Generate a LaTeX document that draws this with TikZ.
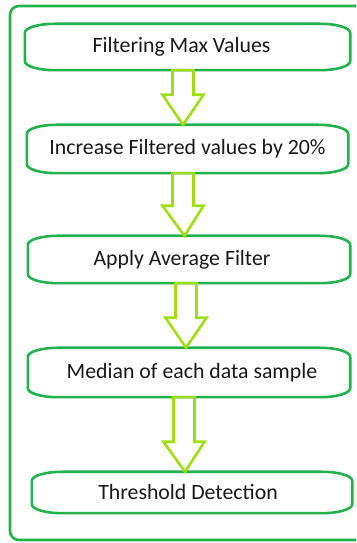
\documentclass[tikz,border=0pt]{standalone}
\usepackage{fontspec}
\setmainfont{Carlito}
\usetikzlibrary{calc}
\definecolor{boxgreen}{RGB}{34,177,76}
\definecolor{arrowgreen}{RGB}{160,222,20}
\tikzset{
  stepbox/.style={draw=none, inner sep=0pt, font=\fontsize{21.8}{25}\selectfont, text=black!90},
  boxline/.style={draw=boxgreen, line width=2.6pt},
  blockarrow/.style={draw=arrowgreen, line width=2.6pt, line join=miter,
    to path={let \p1=(\tikztostart), \p2=(\tikztotarget) in
      (\x1-10.5pt,\y1) -- (\x1+10.5pt,\y1) -- (\x1+10.5pt,\y2+30pt) -- (\x1+20.5pt,\y2+30pt)
      -- (\x2,\y2) -- (\x1-20.5pt,\y2+30pt) -- (\x1-10.5pt,\y2+30pt) -- cycle}},
  outerline/.style={draw=boxgreen, line width=2.6pt, rounded corners=9pt}
}
\begin{document}
\begin{tikzpicture}[x=1pt,y=1pt]
\useasboundingbox (0,0) rectangle (356,543);
\clip (0,0) rectangle (356,543);
\fill[white] (0,0) rectangle (356,543);
\draw[outerline] (380,537) -- (10,537) -- (10,3) -- (380,3);
\node[stepbox, minimum width=325pt, minimum height=46pt] (b1) at (187.5,496) {\hspace*{-12pt}Filtering Max Values};
\node[stepbox, minimum width=321pt, minimum height=48pt] (b2) at (187.5,394) {\raisebox{-3pt}{Increase Filtered values by 20\%}};
\node[stepbox, minimum width=322pt, minimum height=47pt] (b3) at (189,283.5) {\hspace*{-14pt}Apply Average Filter};
\node[stepbox, minimum width=322pt, minimum height=49pt] (b4) at (189,170.5) {\hspace*{6pt}Median of each data sample};
\node[stepbox, minimum width=320pt, minimum height=41pt] (b5) at (192,50.5) {\hspace*{-8pt}Threshold Detection};
\foreach \n in {b1,b2,b3,b4,b5}
  \draw[boxline] ([xshift=30pt]\n.north west) -- ([xshift=-30pt]\n.north east)
    arc[start angle=90, end angle=0, x radius=30pt, y radius=9pt]
    -- ([yshift=9pt]\n.south east)
    arc[start angle=0, end angle=-90, x radius=30pt, y radius=9pt]
    -- ([xshift=30pt]\n.south west)
    arc[start angle=270, end angle=180, x radius=30pt, y radius=9pt]
    -- ([yshift=-9pt]\n.north west)
    arc[start angle=180, end angle=90, x radius=30pt, y radius=9pt] -- cycle;
\draw[blockarrow] ([xshift=-4.5pt]b1.south) to ([xshift=-4.5pt]b2.north);
\draw[blockarrow] ([xshift=-4.5pt]b2.south) to ([xshift=-4.5pt]b3.north);
\draw[blockarrow] ([xshift=-3pt]b3.south) to ([xshift=-3pt]b4.north);
\draw[blockarrow] ([xshift=-5pt]b4.south) to ([xshift=-7pt]b5.north);
\end{tikzpicture}
\end{document}
